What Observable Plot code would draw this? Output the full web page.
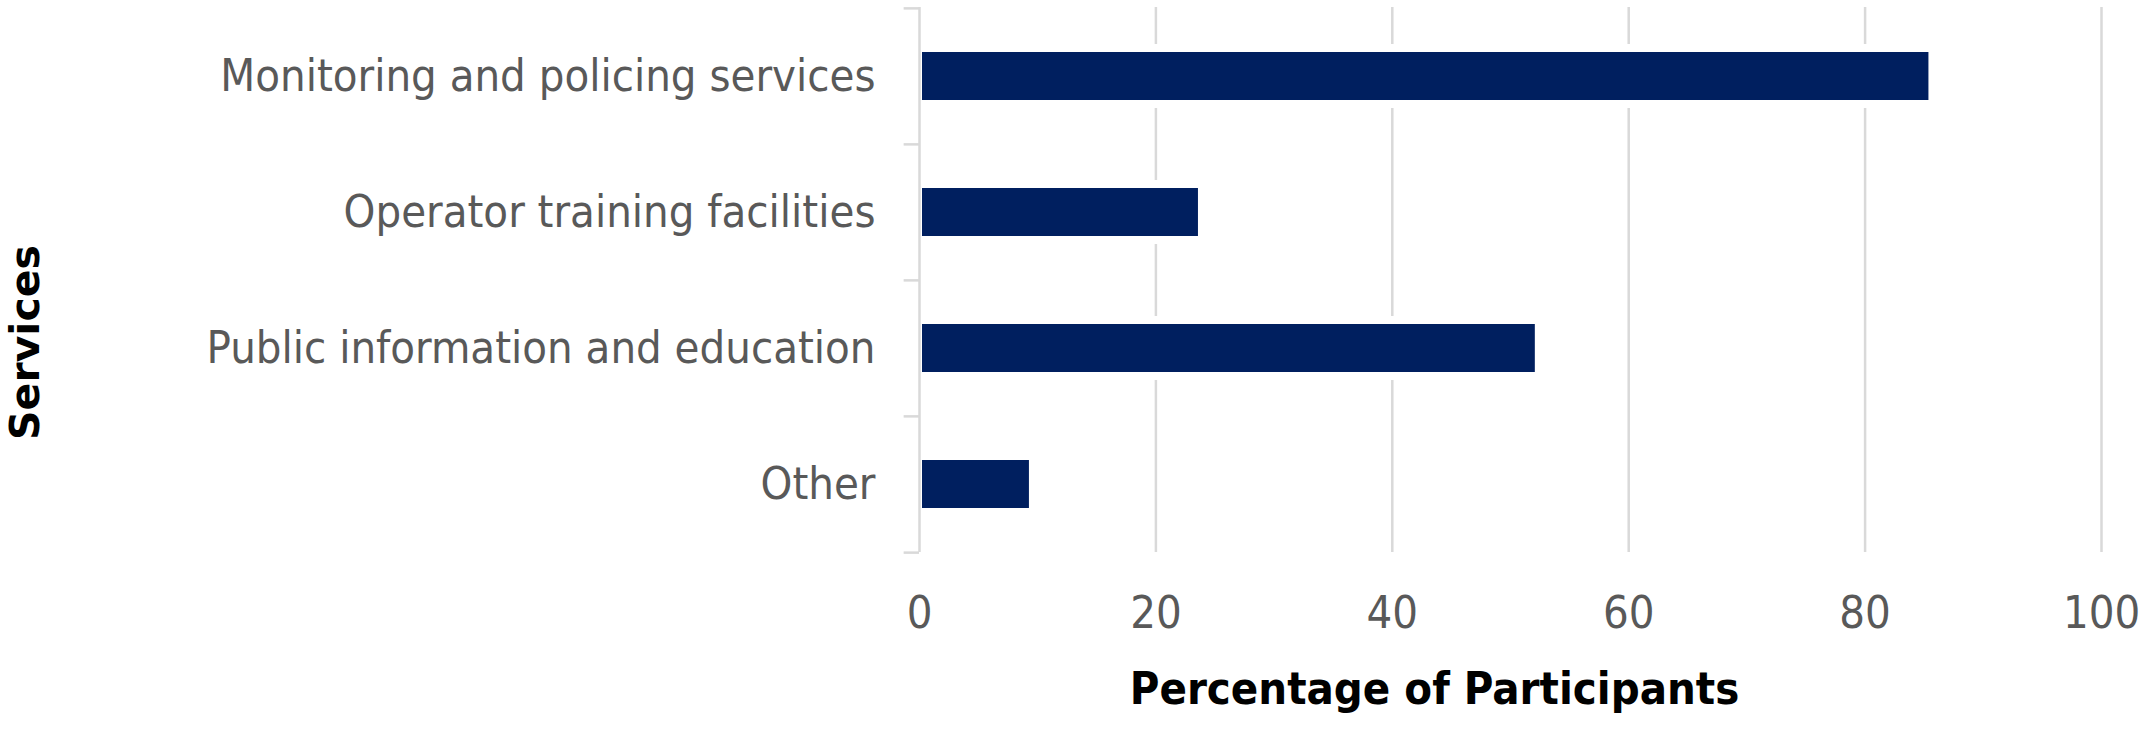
<!DOCTYPE html>
<html>
<head>
<meta charset="utf-8">
<script src="https://cdn.jsdelivr.net/npm/d3@7"></script>
<script src="https://cdn.jsdelivr.net/npm/@observablehq/plot@0.6"></script>
<style>
  body { margin: 0; background: white; }
</style>
</head>
<body>
<div id="chart"></div>
<script>
const services = [
  'Monitoring and policing services',
  'Operator training facilities',
  'Public information and education',
  'Other'
]
const percentages = [85.4, 23.6, 52.1, 9.3]
const xTicks = [0, 20, 40, 60, 80, 100]
const xLabel = 'Percentage of Participants'
const yLabel = 'Services'

const rows = services.map((s, i) => ({service: s, value: percentages[i]}))

const grey = '#d9d9d9'
const half = 68.125 // half a band step, to put the small ticks between bars

let chart = Plot.plot({
  width: 2144,
  height: 736,
  marginLeft: 919,
  marginRight: 43,
  marginTop: 7,
  marginBottom: 184,
  x: {domain: [0, 100]},
  y: {domain: services, paddingInner: 0.65, paddingOuter: 0.325},
  style: {
    fontFamily: '"DejaVu Sans Condensed", "DejaVu Sans", sans-serif',
    background: 'white'
  },
  marks: [
    Plot.ruleX(xTicks.filter(d => d > 0), {stroke: grey, strokeWidth: 2.5}),
    // white gap around the bars, cuts the grid lines like in the original
    Plot.barX(rows, {x: 'value', y: 'service', fill: 'white', insetTop: -8, insetBottom: -8}),
    Plot.ruleX([0], {stroke: grey, strokeWidth: 2.5}),
    Plot.ruleY(services, {y: d => d, x1: -1.3, x2: 0, dy: -half, stroke: grey, strokeWidth: 2.5}),
    Plot.ruleY(services.slice(-1), {y: d => d, x1: -1.3, x2: 0, dy: half, stroke: grey, strokeWidth: 2.5}),
    Plot.barX(rows, {x: 'value', y: 'service', fill: '#001f5f', insetLeft: 3}),
    Plot.axisX(xTicks, {tickSize: 0, tickPadding: 44, fontSize: 45, fill: '#595959', label: null}),
    Plot.axisY({tickSize: 0, tickPadding: 44, fontSize: 45, fill: '#595959', label: null}),
    Plot.text([xLabel], {
      frameAnchor: 'bottom', dx: -76, dy: 151,
      fontSize: 45, fontWeight: 'bold', fill: 'black'
    }),
    Plot.text([yLabel], {
      frameAnchor: 'left', textAnchor: 'middle', dx: -894, dy: 62.5, rotate: -90,
      fontSize: 41, fontWeight: 'bold', fill: 'black', fontFamily: '"DejaVu Sans", sans-serif'
    })
  ]
})

d3.select('#chart').append(() => chart)
</script>
</body>
</html>
